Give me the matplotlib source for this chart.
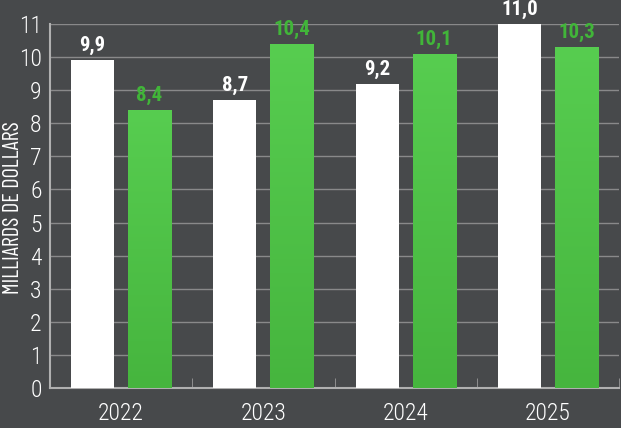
import numpy as np
import matplotlib.pyplot as plt
from matplotlib.colors import LinearSegmentedColormap

# --- Data ---
years = ['2022', '2023', '2024', '2025']
white_vals = [9.9, 8.7, 9.2, 11.0]
green_vals = [8.4, 10.4, 10.1, 10.3]

plt.rcParams['font.family'] = ['Roboto Condensed', 'DejaVu Sans']

bg = '#47494b'
grid_col = '#9a9a9a'
green_txt = '#41b539'
green_cmap = LinearSegmentedColormap.from_list('g', ['#46b53e', '#57cd50'])

fig = plt.figure(figsize=(6.21, 4.28), dpi=100, facecolor=bg)
ax = fig.add_axes([50 / 621, 40 / 428, 569 / 621, 364 / 428])
ax.set_facecolor(bg)

x = np.arange(len(years))
w = 0.303
off = 0.2
ax.bar(x - off, white_vals, w, color='white', zorder=3)
gbars = ax.bar(x + off, green_vals, w, color='#4fc447', zorder=3)

# vertical gradient on the green bars
grad = np.linspace(0, 1, 256).reshape(-1, 1)
for b in gbars:
    x0, y0 = b.get_x(), b.get_y()
    im = ax.imshow(grad, cmap=green_cmap, origin='lower', aspect='auto',
                   extent=[x0, x0 + b.get_width(), y0, y0 + b.get_height()], zorder=3.5)
    im.set_clip_path(b)

for xi, v in zip(x, white_vals):
    ax.text(xi - off, v + 0.15, f'{v:.1f}'.replace('.', ','), ha='center', va='bottom',
            color='white', fontsize=15, fontweight='bold', zorder=4)
for xi, v in zip(x, green_vals):
    ax.text(xi + off, v + 0.15, f'{v:.1f}'.replace('.', ','), ha='center', va='bottom',
            color=green_txt, fontsize=15, fontweight='bold', zorder=4)

ax.set_xlim(-0.5, len(years) - 0.5)
ax.set_ylim(0, 11)
ax.set_yticks(range(0, 12))
ax.set_xticks(x)
ax.set_xticklabels(years, fontweight='light')
ax.set_yticklabels([str(i) for i in range(0, 12)], fontweight='light')
ax.set_xticks(np.arange(-0.5, len(years)), minor=True)
ax.tick_params(axis='x', which='major', length=0, pad=10, labelsize=17, labelcolor='white')
ax.tick_params(axis='x', which='minor', direction='in', length=7, color=grid_col)
ax.tick_params(axis='y', length=0, pad=6, labelsize=17, labelcolor='white')

ax.grid(axis='y', color=grid_col, linewidth=1, alpha=0.8, zorder=0)
for s in ['top', 'right']:
    ax.spines[s].set_visible(False)
for s in ['left', 'bottom']:
    ax.spines[s].set_color('#b0b0b0')
    ax.spines[s].set_linewidth(1.5)

fig.text(14 / 621, 1 - 208 / 428, 'MILLIARDS DE DOLLARS', rotation=90, ha='center', va='center',
         color='white', fontsize=16, fontweight='normal',
         family=['Barlow Condensed', 'Roboto Condensed', 'DejaVu Sans'])

fig.savefig('out.png', dpi=100, facecolor=bg)
